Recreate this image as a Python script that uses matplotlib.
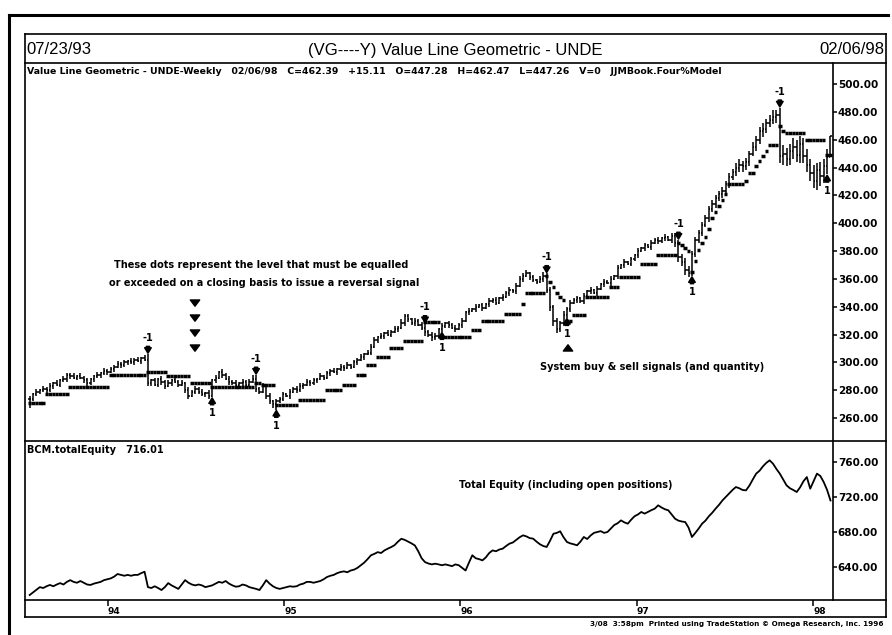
import numpy as np
import pandas as pd
import matplotlib
matplotlib.use("Agg")
import matplotlib.pyplot as plt
import matplotlib.dates as mdates
from matplotlib.lines import Line2D
from matplotlib.patches import FancyArrowPatch
from matplotlib.font_manager import FontProperties
from matplotlib.ticker import FormatStrFormatter

# ---------------- data (weekly bars 07/23/93 .. 02/06/98) ----------------
week_start = "1993-07-23"
n_weeks = 238

close = [
    274, 277, 279, 280, 281, 280, 283, 285, 284, 287,
    288, 291, 290, 289, 290, 289, 287, 285, 288, 290,
    291, 292, 294, 293, 295, 297, 299, 298, 300, 301,
    300, 302, 301, 303, 302, 285, 287, 284, 288, 286,
    283, 285, 287, 286, 284, 285, 280, 276, 279, 281,
    279, 277, 278, 276, 287, 289, 293, 291, 288, 286,
    285, 284, 285, 286, 284, 286, 288, 281, 279, 283,
    276, 272, 270, 272, 274, 277, 276, 279, 281, 280,
    283, 284, 286, 285, 287, 288, 290, 289, 292, 294,
    293, 295, 297, 296, 298, 297, 300, 302, 304, 306,
    307, 311, 316, 318, 319, 321, 320, 322, 324, 325,
    328, 333, 331, 328, 330, 327, 325, 322, 320, 318,
    319, 324, 326, 328, 327, 325, 324, 327, 330, 336,
    337, 338, 340, 341, 339, 342, 344, 345, 343, 346,
    347, 350, 352, 351, 355, 360, 362, 364, 361, 359,
    358, 360, 362, 352, 340, 330, 324, 328, 334, 338,
    343, 345, 346, 344, 348, 351, 352, 350, 353, 356,
    358, 357, 360, 362, 368, 370, 372, 371, 374, 377,
    380, 382, 384, 383, 386, 388, 387, 389, 390, 388,
    391, 386, 376, 372, 366, 364, 378, 388, 393, 399,
    404, 410, 414, 418, 421, 423, 428, 433, 437, 440,
    442, 441, 444, 450, 455, 460, 466, 468, 472, 474,
    476, 478, 448, 450, 446, 452, 455, 449, 457, 448,
    442, 436, 430, 438, 434, 441, 447.28, 462.39,
]

# extension of each bar above max(open, close) and below min(open, close)
ext_up = [
    2, 1, 2, 1, 2, 1, 2, 1, 2, 1,
    2, 1, 1, 2, 1, 2, 1, 2, 1, 1,
    2, 1, 2, 1, 2, 1, 2, 1, 2, 1,
    2, 1, 2, 1, 2, 4, 1, 2, 1, 2,
    1, 2, 1, 2, 1, 2, 1, 2, 1, 2,
    1, 2, 1, 2, 1, 2, 1, 2, 1, 2,
    1, 2, 1, 2, 1, 2, 3, 3, 1, 2,
    1, 2, 1, 2, 1, 2, 1, 2, 1, 2,
    2, 1, 2, 1, 2, 1, 2, 1, 2, 1,
    2, 1, 2, 1, 2, 1, 2, 1, 2, 1,
    2, 2, 2, 1, 2, 1, 2, 1, 2, 1,
    3, 2, 2, 1, 2, 1, 2, 3, 1, 2,
    2, 1, 2, 1, 2, 1, 2, 1, 2, 1,
    2, 1, 2, 1, 2, 1, 2, 1, 2, 1,
    2, 1, 2, 1, 2, 2, 2, 2, 1, 2,
    1, 2, 3, 2, 2, 1, 2, 2, 3, 2,
    2, 1, 2, 1, 2, 1, 2, 1, 2, 1,
    2, 1, 2, 1, 2, 1, 2, 1, 2, 1,
    2, 1, 2, 1, 2, 1, 2, 1, 2, 1,
    2, 2, 2, 2, 3, 3, 2, 2, 2, 2,
    2, 2, 3, 2, 2, 3, 2, 3, 2, 3,
    4, 3, 3, 2, 3, 3, 3, 4, 3, 4,
    5, 3, 5, 6, 4, 5, 6, 5, 6, 4,
    5, 4, 6, 5, 6, 5, 6, 0.08,
]
ext_dn = [
    7, 2, 1, 2, 1, 2, 1, 2, 1, 2,
    1, 2, 2, 1, 2, 1, 2, 2, 1, 2,
    1, 2, 1, 2, 1, 2, 1, 2, 1, 2,
    1, 2, 1, 2, 1, 2, 2, 1, 2, 2,
    2, 1, 2, 1, 2, 1, 2, 2, 1, 2,
    2, 1, 2, 2, 1, 2, 1, 2, 1, 2,
    1, 2, 1, 2, 1, 2, 1, 2, 2, 1,
    2, 2, 3, 4, 1, 2, 1, 2, 1, 2,
    1, 2, 1, 2, 1, 2, 1, 2, 1, 2,
    1, 2, 1, 2, 1, 2, 1, 2, 1, 2,
    1, 2, 1, 2, 1, 2, 1, 2, 1, 2,
    1, 2, 2, 1, 2, 1, 2, 3, 2, 3,
    2, 1, 2, 1, 2, 1, 2, 1, 2, 1,
    2, 1, 2, 1, 2, 1, 2, 1, 2, 1,
    2, 1, 2, 1, 2, 1, 2, 1, 2, 1,
    2, 1, 2, 2, 3, 4, 3, 2, 2, 2,
    2, 1, 2, 1, 2, 1, 2, 1, 2, 1,
    2, 1, 2, 1, 2, 1, 2, 1, 2, 1,
    2, 1, 2, 1, 2, 1, 2, 1, 2, 1,
    2, 3, 4, 3, 3, 3, 2, 2, 2, 2,
    2, 3, 2, 3, 2, 3, 2, 3, 2, 3,
    3, 4, 3, 3, 2, 3, 3, 4, 3, 3,
    3, 4, 5, 6, 5, 4, 6, 5, 6, 5,
    5, 6, 5, 6, 7, 5, 6, 0,
]

# reversal (stop) level: the dots/dashes
stop_level = [
    271, 271, 271, 271, 271, 277, 277, 277, 277, 277,
    277, 277, 282, 282, 282, 282, 282, 282, 282, 282,
    282, 282, 282, 282, 291, 291, 291, 291, 291, 291,
    291, 291, 291, 291, 291, 293, 293, 293, 293, 293,
    293, 290, 290, 290, 290, 290, 290, 290, 285, 285,
    285, 285, 285, 285, 282, 282, 282, 282, 282, 282,
    282, 282, 282, 282, 282, 282, 282, 285, 285, 284,
    284, 284, 284, 269, 269, 269, 269, 269, 269, 269,
    273, 273, 273, 273, 273, 273, 273, 273, 280, 280,
    280, 280, 280, 284, 284, 284, 284, 291, 291, 291,
    298, 298, 298, 304, 304, 304, 304, 310, 310, 310,
    310, 315, 315, 315, 315, 315, 315, 329, 329, 329,
    329, 329, 318, 318, 318, 318, 318, 318, 318, 318,
    318, 323, 323, 323, 330, 330, 330, 330, 330, 330,
    330, 335, 335, 335, 335, 335, 342, 350, 350, 350,
    350, 350, 350, 362, 358, 354, 350, 347, 345, 330,
    330, 334, 334, 334, 334, 347, 347, 347, 347, 347,
    347, 347, 354, 354, 354, 361, 361, 361, 361, 361,
    361, 371, 371, 371, 371, 371, 377, 377, 377, 377,
    377, 377, 386, 384, 382, 380, 365, 373, 381, 386,
    390, 396, 404, 408, 412, 417, 421, 428, 428, 428,
    428, 428, 430, 436, 436, 441, 445, 448, 452, 456,
    456, 456, 470, 466, 465, 465, 465, 465, 465, 465,
    460, 460, 460, 460, 460, 460, 449, 449,
]

equity = [
    608, 611, 614, 617, 616, 618, 619.5, 618, 620, 621.6,
    620, 623, 625, 623, 622, 624, 622, 620, 619.5, 621,
    622, 623, 625, 626, 627, 629, 632, 631, 630, 631,
    630, 631, 631, 633, 634.6, 617, 616, 618, 616, 613.7,
    617, 621.6, 619, 617, 615, 620, 625, 622, 620, 619,
    620, 619, 617, 618, 619, 621, 623, 622, 624, 621,
    619, 617.5, 618, 620, 619, 617, 616, 615, 613.7, 619,
    625, 621, 618, 616, 615, 616, 617, 618, 617.5, 618,
    620, 621, 623, 623, 622, 623, 624, 626, 628.6, 630,
    631, 633, 634.3, 635, 634, 636, 637, 639, 642, 645,
    649, 653.4, 655, 657, 656, 659, 661, 662.8, 665, 669,
    672.3, 671, 669, 667, 664.6, 658, 650, 645.6, 644, 643,
    643.8, 643, 642, 643, 642, 641, 643, 642, 639, 636,
    645, 653.4, 650, 649, 647.6, 651, 656, 659, 658, 660,
    661, 664, 666.7, 668, 671, 674, 676.2, 675, 673, 672.4,
    669, 666, 664, 662.9, 670, 678, 679, 680.8, 674, 668.6,
    667, 666, 664.8, 669, 674.3, 672, 676, 679, 680, 681,
    679, 680, 684, 688, 690, 693.3, 691, 689.5, 694, 698,
    700, 702.9, 701, 703, 705, 706.7, 710.5, 708, 706, 704.8,
    700, 695.2, 693, 692, 691.4, 685, 674.3, 679, 684, 689.5,
    693, 698, 702, 706.7, 711, 716, 720, 724, 728, 731.4,
    730, 728, 727.6, 733, 740, 746.7, 750, 755, 759, 761.9,
    758, 752, 746.7, 740, 733.3, 730, 728, 725.7, 731, 738,
    742.8, 729.5, 738, 746.7, 744, 737, 728, 716.01,
]

signal_week = [35, 54, 67, 73, 117, 122, 153, 159, 192, 196, 222, 236]
signal_qty = [-1, 1, -1, 1, -1, 1, -1, 1, -1, 1, -1, 1]

price_ticks = [260, 280, 300, 320, 340, 360, 380, 400, 420, 440, 460, 480, 500]
equity_ticks = [640, 680, 720, 760]

# ---------------- figure ----------------
W, H = 892, 635
fig = plt.figure(figsize=(W / 100, H / 100), dpi=100)
fig.patch.set_facecolor("white")


def fx(px):
    return px / W


def fy(py):
    return 1 - py / H


def fline(x0, y0, x1, y1, lw=1.2):
    fig.add_artist(Line2D([fx(x0), fx(x1)], [fy(y0), fy(y1)], transform=fig.transFigure,
                          color="black", lw=lw, solid_capstyle="projecting"))


AX_L, AX_R = 25, 833
ax = fig.add_axes([fx(AX_L), fy(440), fx(AX_R - AX_L), fy(63) - fy(440)])
ax2 = fig.add_axes([fx(AX_L), fy(600), fx(AX_R - AX_L), fy(441) - fy(600)])

dates = pd.date_range(week_start, periods=n_weeks, freq="7D")
x = mdates.date2num(dates.to_pydatetime())
c = np.array(close, dtype=float)
o = np.concatenate([[c[0]], c[:-1]])
hi = np.maximum(o, c) + np.array(ext_up, dtype=float)
lo = np.minimum(o, c) - np.array(ext_dn, dtype=float)
st = np.array(stop_level, dtype=float)

tick_days = 2.8
ax.vlines(x, lo, hi, color="black", lw=1.1)
ax.hlines(c, x, x + tick_days, color="black", lw=1.1)
ax.hlines(o, x - tick_days, x, color="black", lw=1.1)
ax.hlines(st, x - 3.6, x + 3.6, color="black", lw=2.5, capstyle="butt")

BOLD = "DejaVu Sans"
small = dict(family=BOLD, fontweight="bold", fontsize=7)
for wk, q in zip(signal_week, signal_qty):
    arrow = dict(arrowstyle="simple,head_length=0.5,head_width=0.6,tail_width=0.3",
                 fc="black", ec="black", shrinkA=0.5, shrinkB=0.5, mutation_scale=8)
    if q < 0:
        ax.annotate(f"{q}", xy=(x[wk], hi[wk]), xytext=(0, 8), textcoords="offset points",
                    ha="center", va="bottom", arrowprops=arrow, **small)
    else:
        ax.annotate(f"{q}", xy=(x[wk], lo[wk]), xytext=(0, -8), textcoords="offset points",
                    ha="center", va="top", arrowprops=arrow, **small)

xl = (x[0] - 9.7, x[-1] + 5.2)
ax.set_xlim(*xl)
ax.set_ylim(244.2, 515.1)
ax2.set_xlim(*xl)
ax2.set_ylim(602.3, 784)

ax2.plot(x, equity, color="black", lw=1.3)

tickfont = FontProperties(family=BOLD, weight="bold", size=7.5)
for a, ticks in ((ax, price_ticks), (ax2, equity_ticks)):
    for s in ("top", "bottom", "left"):
        a.spines[s].set_visible(False)
    a.spines["right"].set_linewidth(1.2)
    a.yaxis.tick_right()
    a.set_yticks(ticks)
    a.yaxis.set_major_formatter(FormatStrFormatter("%.2f"))
    a.tick_params(axis="y", direction="out", length=3, width=1.1, pad=0.5)
    for lab in a.get_yticklabels():
        lab.set_fontproperties(tickfont)
    a.patch.set_alpha(0)

ax.set_xticks([])
ax2.xaxis.set_major_locator(mdates.YearLocator())
ax2.xaxis.set_major_formatter(mdates.DateFormatter("%y"))
ax2.tick_params(axis="x", direction="out", length=4.5, width=1.1, pad=0.5)
for lab in ax2.get_xticklabels():
    lab.set_ha("left")
    lab.set_fontproperties(FontProperties(family=BOLD, weight="bold", size=6.5))

# ---------------- frames ----------------
fline(9, 15, 888, 15, lw=2.2)
fline(9, 15, 9, 635, lw=2.2)
fline(25, 34, 886, 34)
fline(25, 34, 25, 617)
fline(886, 34, 886, 617)
fline(25, 617, 886, 617)
fline(25, 63, 886, 63)
fline(25, 441, 886, 441)
fline(25, 600, 886, 600)

# ---------------- texts ----------------
lib = "Liberation Sans"
fig.text(fx(26), fy(50), "07/23/93", ha="left", va="center", family=lib, fontsize=12)
fig.text(fx(455), fy(50), "(VG----Y) Value Line Geometric - UNDE", ha="center", va="center",
         family=lib, fontsize=12)
fig.text(fx(884), fy(50), "02/06/98", ha="right", va="center", family=lib, fontsize=12)
fig.text(fx(27), fy(72),
         "Value Line Geometric - UNDE-Weekly   02/06/98   C=462.39   +15.11   O=447.28   "
         "H=462.47   L=447.26   V=0   JJMBook.Four%Model",
         ha="left", va="center", family=BOLD, fontweight="bold", fontsize=6.75)
fig.text(fx(27), fy(450), "BCM.totalEquity   716.01", ha="left", va="center", family=BOLD,
         fontweight="bold", fontsize=7)

note = dict(family=BOLD, fontweight="bold", fontsize=7, ha="center", va="center")
fig.text(fx(261), fy(265), "These dots represent the level that must be equalled", **note)
fig.text(fx(264), fy(283), "or exceeded on a closing basis to issue a reversal signal", **note)
fig.text(fx(652), fy(367), "System buy & sell signals (and quantity)", **note)
fig.text(fx(566), fy(485), "Total Equity (including open positions)", **note)
fig.text(fx(884), fy(624), "3/08  3:58pm  Printed using TradeStation \u00a9 Omega Research, Inc. 1996",
         ha="right", va="center", family=BOLD, fontweight="bold", fontsize=5.2)

arr = dict(arrowstyle="simple,head_length=0.5,head_width=0.75,tail_width=0.35",
           fc="black", ec="black", mutation_scale=9)
for y0 in (299, 314, 329, 344):
    fig.add_artist(FancyArrowPatch((fx(195), fy(y0)), (fx(195), fy(y0 + 10)),
                                   transform=fig.transFigure, **arr))
fig.add_artist(FancyArrowPatch((fx(568), fy(353)), (fx(568), fy(342)),
                               transform=fig.transFigure, **arr))

fig.savefig("out.png", dpi=100, facecolor="white")
